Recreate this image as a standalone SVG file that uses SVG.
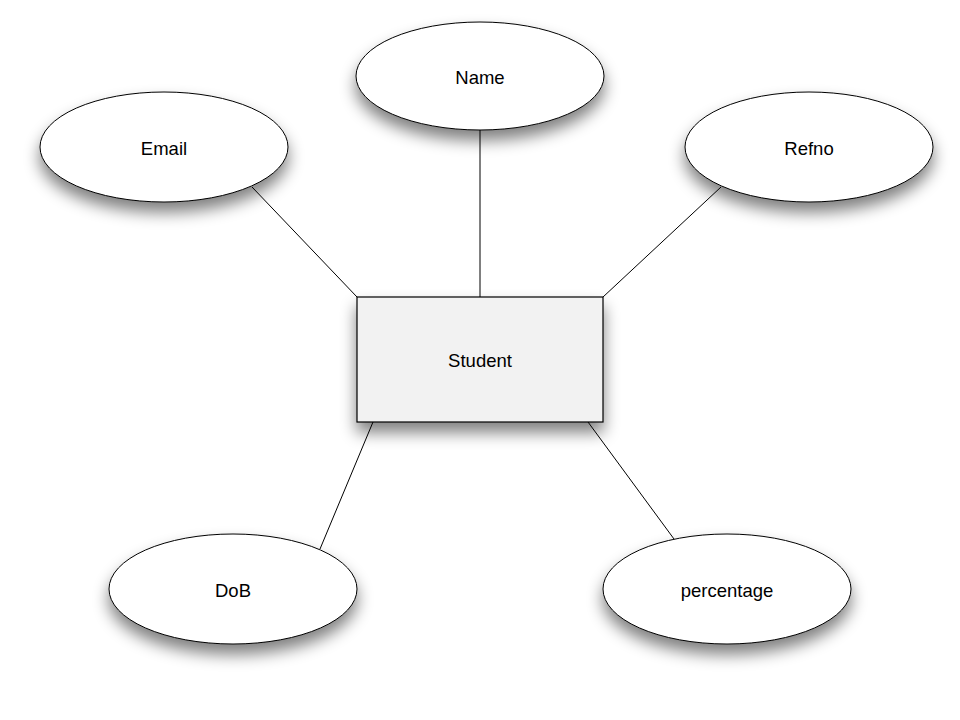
<svg xmlns="http://www.w3.org/2000/svg" width="960" height="720" viewBox="0 0 960 720">
<defs>
<filter id="sh" x="-40%" y="-40%" width="180%" height="200%">
<feGaussianBlur in="SourceAlpha" stdDeviation="8"/>
<feOffset dx="0" dy="10" result="b"/>
<feComponentTransfer><feFuncA type="linear" slope="0.5"/></feComponentTransfer>
<feMerge><feMergeNode/><feMergeNode in="SourceGraphic"/></feMerge>
</filter>
</defs>
<style>
.n{fill:#ffffff;stroke:#000000;stroke-width:1;filter:url(#sh)}
.r{fill:#f2f2f2;stroke:#000000;stroke-width:1.2;filter:url(#sh)}
.t{font-family:"Liberation Sans",Arial,sans-serif;font-size:18.5px;fill:#000;text-anchor:middle;dominant-baseline:central}
.c{stroke:#000;stroke-width:1;fill:none}
</style>
<rect width="960" height="720" fill="#ffffff"/>
<g id="connectors">
<line class="c" x1="252" y1="187" x2="357" y2="297"/>
<line class="c" x1="480" y1="130" x2="480" y2="297"/>
<line class="c" x1="721" y1="187" x2="603" y2="297"/>
<line class="c" x1="373" y1="422" x2="320" y2="549"/>
<line class="c" x1="588" y1="422" x2="674" y2="539"/>
</g>
<g id="student"><rect class="r" x="357" y="297" width="246" height="125"/><text class="t" x="480" y="360">Student</text></g>
<g id="name"><ellipse class="n" cx="480" cy="76" rx="124" ry="54"/><text class="t" x="480" y="77">Name</text></g>
<g id="email"><ellipse class="n" cx="164" cy="147" rx="124" ry="55"/><text class="t" x="164" y="148">Email</text></g>
<g id="refno"><ellipse class="n" cx="809" cy="147" rx="124" ry="55"/><text class="t" x="809" y="148">Refno</text></g>
<g id="dob"><ellipse class="n" cx="233" cy="589" rx="124" ry="55"/><text class="t" x="233" y="590">DoB</text></g>
<g id="percentage"><ellipse class="n" cx="727" cy="589" rx="124" ry="55"/><text class="t" x="727" y="590">percentage</text></g>
</svg>
